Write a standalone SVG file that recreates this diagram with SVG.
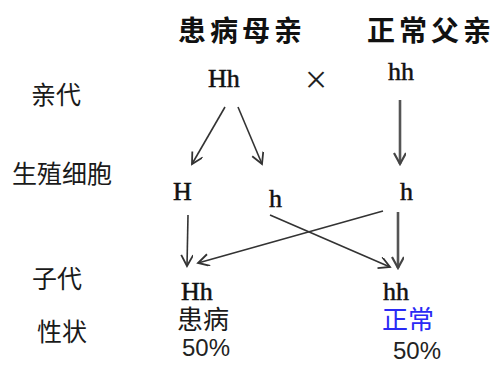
<svg xmlns="http://www.w3.org/2000/svg" width="501" height="365" viewBox="0 0 501 365">
<style>
.lab{font-family:"Noto Sans CJK SC","Noto Sans",sans-serif;font-size:25px;fill:#1a1a1a}
.ch{font-size:26px}
.ttl{font-family:"Noto Sans CJK SC",sans-serif;font-size:28px;font-weight:bold;fill:#111;letter-spacing:4px}
.gen{font-family:"Liberation Serif",serif;font-size:26px;fill:#111;stroke:#111;stroke-width:0.5}
.pct{font-family:"Liberation Sans",sans-serif;font-size:24px;fill:#222}
.a1{stroke:#333;stroke-width:1.6;fill:none}
.a2{stroke:#555;stroke-width:2.6;fill:none}
</style>
<defs>
<marker id="ah" markerUnits="userSpaceOnUse" markerWidth="14" markerHeight="14" refX="12" refY="6" orient="auto">
<path d="M1,0 L12,6 L1,12" fill="none" stroke="#333" stroke-width="1.8"/>
</marker>
<marker id="ah2" markerUnits="userSpaceOnUse" markerWidth="14" markerHeight="14" refX="12" refY="6" orient="auto">
<path d="M1,0 L12,6 L1,12" fill="none" stroke="#444" stroke-width="2.2"/>
</marker>
</defs>
<g id="title-mother"><text class="ttl" x="178" y="41">患病母亲</text></g>
<g id="title-father"><text class="ttl" x="367" y="41">正常父亲</text></g>
<g id="row-labels">
<text class="lab" x="31" y="104">亲代</text>
<text class="lab" x="12" y="183">生殖细胞</text>
<text class="lab" x="32" y="288">子代</text>
<text class="lab" x="37" y="341">性状</text>
</g>
<g id="parent-Hh"><text class="gen" x="208" y="87">Hh</text></g>
<g id="cross"><text x="316" y="93" text-anchor="middle" style="font-family:'Liberation Serif',serif;font-size:40px;fill:#222">×</text></g>
<g id="parent-hh"><text class="gen" x="388" y="80">hh</text></g>
<g id="gamete-H"><text class="gen" x="173" y="200">H</text></g>
<g id="gamete-h1"><text class="gen" x="269" y="207">h</text></g>
<g id="gamete-h2"><text class="gen" x="400" y="200">h</text></g>
<g id="child-Hh">
<text class="gen" x="181" y="300">Hh</text>
<text class="lab ch" x="177" y="329">患病</text>
<text class="pct" x="182" y="356">50%</text>
</g>
<g id="child-hh">
<text class="gen" x="383" y="300">hh</text>
<text class="lab ch" x="382" y="329" style="fill:#2a2af5">正常</text>
<text class="pct" x="393" y="359">50%</text>
</g>
<g id="connectors">
<line class="a1" x1="225" y1="107" x2="192" y2="164" marker-end="url(#ah)"/>
<line class="a1" x1="238" y1="107" x2="262" y2="164" marker-end="url(#ah)"/>
<line class="a2" x1="400" y1="100" x2="400" y2="164" marker-end="url(#ah2)"/>
<line class="a1" x1="188" y1="215" x2="187" y2="266" marker-end="url(#ah)"/>
<line class="a1" x1="270" y1="215" x2="390" y2="267" marker-end="url(#ah)"/>
<line class="a1" x1="383" y1="211" x2="198" y2="263" marker-end="url(#ah)"/>
<line class="a2" x1="398" y1="212" x2="398" y2="268" marker-end="url(#ah2)"/>
</g>
</svg>
